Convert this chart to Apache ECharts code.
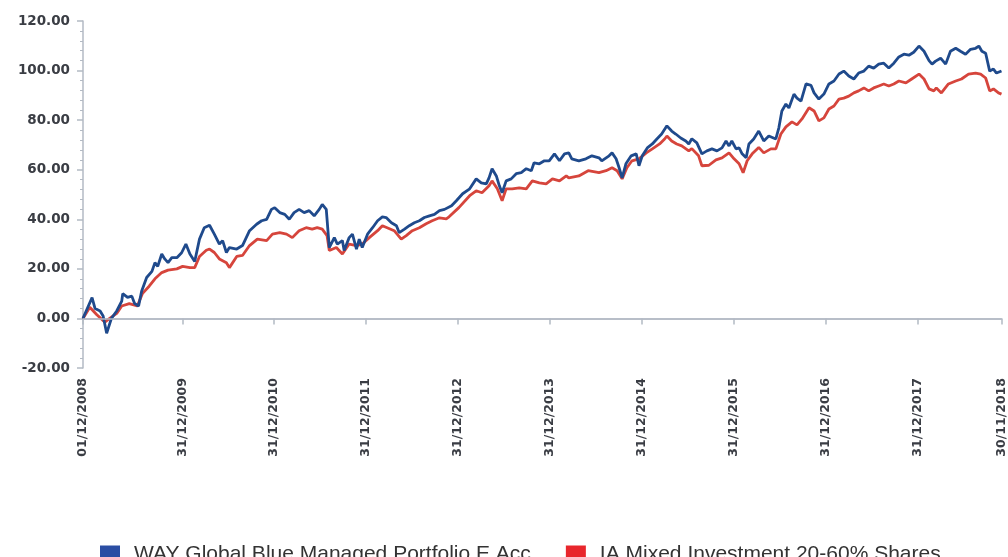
<!DOCTYPE html>
<html>
<head>
<meta charset="utf-8">
<title>Performance</title>
<script src="https://cdn.jsdelivr.net/npm/echarts@6/dist/echarts.min.js"></script>
<style>
  html, body { margin: 0; padding: 0; background: #fff; }
  #chart { width: 1008px; height: 557px; }
</style>
</head>
<body>
<div id="chart"></div>
<script>
// series names
const fundName = 'WAY Global Blue Managed Portfolio E Acc';
const sectorName = 'IA Mixed Investment 20-60% Shares';

// x axis tick dates and y axis ticks
const tickDates = ['2008-12-01', '2009-12-31', '2010-12-31', '2011-12-31', '2012-12-31',
  '2013-12-31', '2014-12-31', '2015-12-31', '2016-12-31', '2017-12-31', '2018-11-30'];
const yTicks = [-20, 0, 20, 40, 60, 80, 100, 120];

// fund (blue) - dates and % growth
const fundDates = ['2008-12-01','2008-12-05','2009-01-06','2009-01-18','2009-02-07','2009-02-19','2009-03-05','2009-03-24','2009-04-14','2009-05-04','2009-05-08','2009-05-27','2009-06-13','2009-06-24','2009-07-10','2009-07-22','2009-08-11','2009-09-01','2009-09-13','2009-09-24','2009-10-10','2009-10-22','2009-11-04','2009-11-19','2009-12-09','2009-12-28','2010-01-14','2010-01-30','2010-02-18','2010-03-09','2010-03-28','2010-04-18','2010-05-07','2010-05-27','2010-06-09','2010-06-24','2010-07-06','2010-08-04','2010-08-27','2010-09-24','2010-10-22','2010-11-11','2010-12-01','2010-12-20','2011-01-02','2011-01-22','2011-02-11','2011-03-01','2011-03-20','2011-04-09','2011-04-29','2011-05-19','2011-06-08','2011-06-28','2011-07-10','2011-07-26','2011-08-07','2011-08-27','2011-09-08','2011-09-28','2011-10-05','2011-10-25','2011-11-07','2011-11-23','2011-12-04','2011-12-16','2012-01-06','2012-01-26','2012-02-15','2012-03-05','2012-03-20','2012-04-10','2012-04-30','2012-05-11','2012-06-01','2012-06-20','2012-07-10','2012-07-30','2012-08-19','2012-09-08','2012-09-28','2012-10-18','2012-11-07','2012-12-05','2012-12-24','2013-01-18','2013-02-15','2013-03-13','2013-04-02','2013-04-22','2013-05-03','2013-05-15','2013-06-01','2013-06-13','2013-06-24','2013-07-10','2013-07-30','2013-08-19','2013-09-08','2013-09-28','2013-10-18','2013-10-29','2013-11-19','2013-12-09','2013-12-28','2014-01-18','2014-02-07','2014-02-27','2014-03-16','2014-03-28','2014-04-25','2014-05-23','2014-06-16','2014-07-14','2014-07-25','2014-08-23','2014-09-04','2014-09-20','2014-10-02','2014-10-14','2014-10-29','2014-11-19','2014-12-09','2014-12-20','2015-01-02','2015-01-22','2015-02-11','2015-03-01','2015-03-20','2015-04-10','2015-04-29','2015-05-15','2015-06-04','2015-06-24','2015-07-06','2015-07-18','2015-08-07','2015-08-27','2015-09-16','2015-10-06','2015-10-26','2015-11-15','2015-12-01','2015-12-13','2015-12-24','2016-01-10','2016-01-22','2016-02-03','2016-02-19','2016-03-01','2016-03-20','2016-04-09','2016-04-29','2016-05-19','2016-06-16','2016-06-28','2016-07-10','2016-07-26','2016-08-07','2016-08-27','2016-09-08','2016-09-24','2016-10-14','2016-11-03','2016-11-15','2016-12-04','2016-12-24','2017-01-13','2017-02-02','2017-02-22','2017-03-13','2017-04-02','2017-04-22','2017-05-11','2017-06-01','2017-06-20','2017-07-10','2017-07-30','2017-08-19','2017-09-08','2017-09-28','2017-10-18','2017-11-07','2017-11-27','2017-12-16','2018-01-06','2018-01-26','2018-02-15','2018-02-27','2018-03-13','2018-04-02','2018-04-22','2018-05-11','2018-06-01','2018-06-20','2018-07-10','2018-07-30','2018-08-19','2018-09-01','2018-09-13','2018-09-28','2018-10-14','2018-10-29','2018-11-10','2018-11-30'];
const fundValues = [0,1,8.4,4,3,1,-6,0,3,7,10,8.5,9,6,5,11,16.5,19,22.5,21,26,24,22.5,24.5,24.5,26.5,30,26,23,32,36.6,37.6,34,30,31.4,26.6,28.6,28,29.4,35.4,38,39.4,40,44,44.7,42.7,42,40,42.7,44,42.7,43.5,41.4,44,46,44,28.6,32.6,30,31.4,27.4,32.6,34,28,32,28.6,34,36.6,39.4,41,40.7,38.6,37.4,34.6,36,37.4,38.6,39.4,40.7,41.4,42,43.5,44,45.5,47.5,50.3,52.3,56.3,54.7,54.3,56.7,60.4,57.5,53.5,50.7,55.5,56.3,58.4,58.8,60.4,59.6,62.8,62.4,63.6,63.6,66.4,63.6,66.4,66.8,64.4,63.6,64.4,65.6,64.8,63.6,65.6,66.8,64.4,60.8,56.7,62.4,65.6,66.4,61.6,65.6,68.8,70.4,72.4,74.4,77.7,75.6,74.4,72.8,71.6,70.4,72.5,70.8,66.4,67.6,68.4,67.6,68.8,71.6,69.6,71.6,68.4,68.8,66.4,64.8,70.4,72.4,75.6,71.6,73.6,72.4,76.9,83.7,86.5,84.9,90.5,88.9,87.7,94.6,94,91,88.5,90.5,94.6,95.8,98.6,99.8,97.8,96.6,99,99.8,101.8,101,102.6,103,101,103,105.5,106.6,106.2,107.4,109.9,107.8,104,102.6,103.8,105,102.6,107.8,109,107.8,106.6,108.6,109,109.9,107.8,107,99.8,100.6,99,99.8];

// sector (red)
const sectorDates = ['2008-12-01','2008-12-05','2008-12-28','2009-01-25','2009-02-26','2009-03-17','2009-04-14','2009-05-04','2009-06-03','2009-07-05','2009-07-25','2009-08-21','2009-09-13','2009-10-10','2009-11-04','2009-12-09','2010-01-01','2010-01-30','2010-02-18','2010-03-09','2010-04-05','2010-04-18','2010-05-07','2010-05-27','2010-06-24','2010-07-06','2010-08-04','2010-08-27','2010-09-24','2010-10-25','2010-12-01','2010-12-24','2011-01-22','2011-02-18','2011-03-13','2011-04-09','2011-05-07','2011-05-31','2011-06-20','2011-07-10','2011-07-29','2011-08-07','2011-09-04','2011-09-28','2011-10-25','2011-11-23','2011-12-16','2012-01-13','2012-02-15','2012-03-05','2012-03-24','2012-04-21','2012-05-19','2012-06-08','2012-07-02','2012-07-30','2012-08-26','2012-09-19','2012-10-18','2012-11-14','2012-11-25','2013-01-03','2013-02-15','2013-03-13','2013-04-05','2013-05-03','2013-05-15','2013-06-05','2013-06-24','2013-07-10','2013-08-03','2013-08-31','2013-09-28','2013-10-22','2013-11-19','2013-12-16','2014-01-10','2014-02-07','2014-03-06','2014-03-16','2014-04-25','2014-06-01','2014-07-14','2014-08-11','2014-09-04','2014-09-24','2014-10-14','2014-11-02','2014-11-22','2014-12-20','2015-01-18','2015-02-11','2015-03-12','2015-04-01','2015-04-10','2015-04-29','2015-05-19','2015-06-08','2015-07-06','2015-07-18','2015-08-14','2015-08-27','2015-09-24','2015-10-22','2015-11-15','2015-12-13','2016-01-02','2016-01-22','2016-02-07','2016-02-23','2016-03-14','2016-04-09','2016-04-29','2016-05-27','2016-06-16','2016-07-06','2016-07-26','2016-08-19','2016-09-08','2016-09-28','2016-10-26','2016-11-15','2016-12-04','2016-12-24','2017-01-13','2017-02-02','2017-02-22','2017-03-13','2017-04-02','2017-04-22','2017-05-11','2017-06-01','2017-06-20','2017-07-10','2017-07-30','2017-08-19','2017-09-08','2017-09-28','2017-10-18','2017-11-15','2017-12-08','2018-01-06','2018-01-26','2018-02-15','2018-03-06','2018-03-16','2018-04-05','2018-05-03','2018-06-01','2018-06-24','2018-07-22','2018-08-19','2018-09-08','2018-09-28','2018-10-14','2018-10-29','2018-11-18','2018-11-30'];
const sectorValues = [0,0,4.5,1.5,-1.5,0,2,5,6,5,10,13,16,18.5,19.5,20,21,20.5,20.5,25,27.5,28,26.6,24,22.5,20.5,25,25.4,29.4,32,31.4,34,34.6,34,32.6,35.4,36.6,36,36.6,36,33.4,27.4,28.6,26,30,29.4,30,32.6,35.4,37.4,36.6,35.4,32,33.4,35.4,36.6,38.2,39.4,40.6,40.2,41,44.7,49.5,51.5,50.7,53.5,55.5,52.3,47.5,52.3,52.3,52.7,52.3,55.5,54.7,54.3,56.3,55.5,57.5,56.7,57.5,59.6,58.8,59.6,60.8,59.6,56.3,60.8,63.6,64.4,66.8,68.4,70.4,72.4,73.6,71.6,70.4,69.6,67.6,68.5,65.6,61.6,61.8,64,64.8,66.8,64.4,62.4,58.8,63.6,66.4,69,66.8,68.4,68.4,74.4,77.3,79.3,78.1,80.5,85,83.7,79.7,80.9,84.5,85.7,88.5,88.9,89.7,91,91.8,93,91.8,93,93.8,94.6,93.8,94.6,95.8,95,96.6,98.6,96.6,92.6,91.8,93,91,94.6,95.8,96.6,98.6,99,98.6,97,91.8,92.6,91,90.5];

function toTime(s) {
  const p = s.split('-');
  return Date.UTC(+p[0], +p[1] - 1, +p[2]);
}
function pad(n) { return n < 10 ? '0' + n : '' + n; }

const fundData = fundDates.map((d, i) => [toTime(d), fundValues[i]]);
const sectorData = sectorDates.map((d, i) => [toTime(d), sectorValues[i]]);
const tickTimes = tickDates.map(toTime);

const chart = echarts.init(document.getElementById('chart'), null, { renderer: 'canvas' });

const axisGrey = '#b3bac4';
const labelColor = '#3a3d44';

const option = {
  animation: false,
  backgroundColor: '#fff',
  grid: { left: 83, right: 5, top: 21, bottom: 189, containLabel: false },
  legend: {
    left: 95,
    top: 539,
    itemWidth: 20,
    itemHeight: 18,
    itemGap: 35,
    icon: 'rect',
    textStyle: {
      fontFamily: '"Liberation Sans", Arial, sans-serif',
      fontSize: 21,
      color: '#333',
      padding: [0, 0, 0, 9]
    },
    data: [
      { name: fundName, itemStyle: { color: '#2b4ea3' } },
      { name: sectorName, itemStyle: { color: '#e8262c' } }
    ]
  },
  xAxis: {
    type: 'value',
    min: tickTimes[0],
    max: tickTimes[tickTimes.length - 1],
    splitLine: { show: false },
    axisLine: { show: true, lineStyle: { color: axisGrey, width: 1.5 } },
    axisTick: {
      show: true,
      length: 6,
      customValues: tickTimes,
      lineStyle: { color: axisGrey, width: 1.5 }
    },
    axisLabel: {
      customValues: tickTimes,
      rotate: 90,
      margin: 10,
      color: labelColor,
      fontFamily: '"DejaVu Sans", Verdana, sans-serif',
      fontWeight: 'bold',
      fontSize: 12.5,
      formatter: function (v) {
        const d = new Date(v);
        return pad(d.getUTCDate()) + '/' + pad(d.getUTCMonth() + 1) + '/' + d.getUTCFullYear();
      }
    }
  },
  yAxis: {
    type: 'value',
    min: yTicks[0],
    max: yTicks[yTicks.length - 1],
    interval: 20,
    splitLine: { show: false },
    axisLine: { show: true, lineStyle: { color: axisGrey, width: 1.5 } },
    axisTick: { show: true, length: 6, lineStyle: { color: axisGrey, width: 1.5 } },
    minorTick: { show: true, splitNumber: 5, length: 3, lineStyle: { color: axisGrey } },
    axisLabel: {
      margin: 13,
      color: labelColor,
      fontFamily: '"DejaVu Sans", Verdana, sans-serif',
      fontWeight: 'bold',
      fontSize: 13.5,
      formatter: function (v) { return v.toFixed(2); }
    }
  },
  series: [
    {
      name: sectorName,
      type: 'line',
      data: sectorData,
      showSymbol: false,
      z: 2,
      lineStyle: { color: '#d6453c', width: 2.8 },
      itemStyle: { color: '#d6453c' },
      markLine: {
        silent: true,
        symbol: 'none',
        label: { show: false },
        lineStyle: { color: axisGrey, width: 1.5, type: 'solid' },
        data: [{ yAxis: 0 }]
      }
    },
    {
      name: fundName,
      type: 'line',
      data: fundData,
      showSymbol: false,
      z: 3,
      lineStyle: { color: '#1f4a8c', width: 2.8 },
      itemStyle: { color: '#1f4a8c' }
    }
  ]
};

chart.setOption(option);
</script>
</body>
</html>
